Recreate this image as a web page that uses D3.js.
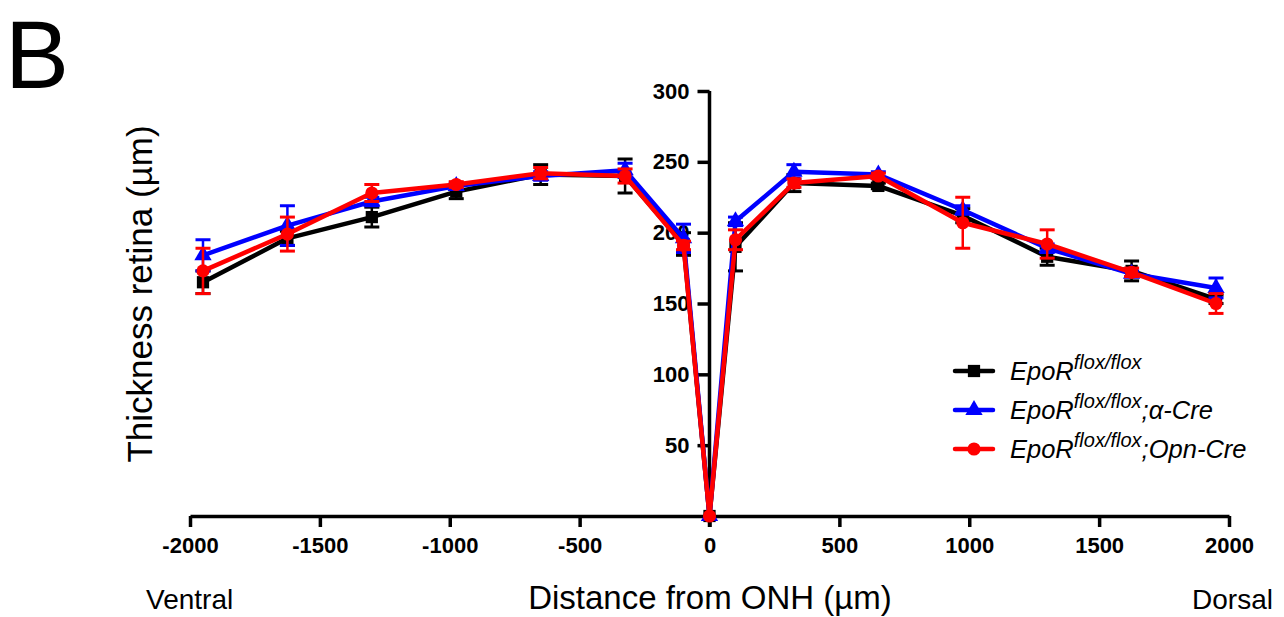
<!DOCTYPE html>
<html>
<head>
<meta charset="utf-8">
<script src="https://cdn.jsdelivr.net/npm/d3@7"></script>
<style>
  html, body { margin: 0; padding: 0; background: #fff; }
  svg { display: block; font-family: "Liberation Sans", Arial, sans-serif; }
</style>
</head>
<body>
<svg id="chart" width="1284" height="617"></svg>
<script>
// ---- data ----
const distances = [-1950, -1625, -1300, -975, -650, -325, -100, 0, 100, 325, 650, 975, 1300, 1625, 1950];

const floxMean = [165, 196, 211, 229, 241, 240, 192, 0, 190, 235, 233, 212, 183, 173, 153];
const floxErr  = [8, 5, 7, 5, 7, 12, 8, 0, 17, 6, 2, 5, 6, 7, 3];

const alphaMean = [184, 205, 222, 233, 240, 244, 196, 0, 208, 243, 241, 216, 189, 171, 161];
const alphaErr  = [11, 14, 3, 2, 3, 5, 10, 0, 3, 5, 2, 3, 3, 2, 7];

const opnMean = [173, 199, 228, 234, 242, 240, 191, 0, 195, 235, 240, 207, 192, 172, 150];
const opnErr  = [16, 12, 6, 2, 4, 5, 3, 0, 7, 3, 2, 18, 10, 3, 7];

const xTicks = [-2000, -1500, -1000, -500, 0, 500, 1000, 1500, 2000];
const yTicks = [50, 100, 150, 200, 250, 300];

const seriesNames = ["flox", "alpha", "opn"];
const seriesSuffix = ["", ";\u03b1-Cre", ";Opn-Cre"];
const seriesColors = ["#000000", "#0000ff", "#ff0000"];
const seriesShapes = ["square", "triangle", "circle"];

// ---- build ----
const svg = d3.select("#chart");
const x = d3.scaleLinear().domain([-2000, 2000]).range([190, 1229]);
const y = d3.scaleLinear().domain([0, 300]).range([516, 91]);

const series = [
  { name: seriesNames[0], mean: floxMean, err: floxErr },
  { name: seriesNames[1], mean: alphaMean, err: alphaErr },
  { name: seriesNames[2], mean: opnMean, err: opnErr }
].map((s, i) => ({ ...s, color: seriesColors[i], shape: seriesShapes[i], suffix: seriesSuffix[i],
  pts: distances.map((d, j) => ({ d, v: s.mean[j], e: s.err[j] })) }));

// axes
const xAxis = svg.append("g").attr("transform", `translate(0,${y(0)})`)
  .call(d3.axisBottom(x).tickValues(xTicks).tickFormat(d => String(d)).tickSize(11).tickPadding(10).tickSizeOuter(0));
const yAxis = svg.append("g").attr("transform", `translate(${x(0)},0)`)
  .call(d3.axisLeft(y).tickValues(yTicks).tickFormat(d => String(d)).tickSize(12).tickPadding(8).tickSizeOuter(0));

[xAxis, yAxis].forEach(g => {
  g.selectAll("path.domain").attr("stroke", "#000").attr("stroke-width", 3.5);
  g.selectAll(".tick line").attr("stroke", "#000").attr("stroke-width", 3.5);
  g.selectAll(".tick text").attr("fill", "#000")
    .style("font-family", "'Liberation Sans', Arial, sans-serif")
    .style("font-weight", "bold").style("font-size", "22px");
});
// extend y-axis line down to x-axis tick bottom
yAxis.select("path.domain").attr("d", `M0,${y(300)}V${y(0) + 11}`);

// symbols
function symbolPath(shape, size) {
  const t = shape === "square" ? d3.symbolSquare : shape === "triangle" ? d3.symbolTriangle : d3.symbolCircle;
  return d3.symbol().type(t).size(size)();
}
const symSize = { square: 150, triangle: 130, circle: 135 };

const line = d3.line().x(p => x(p.d)).y(p => y(p.v));

series.forEach(s => {
  const g = svg.append("g");
  // error bars
  const eb = g.selectAll("g.eb").data(s.pts.filter(p => p.e > 0)).join("g");
  eb.append("line")
    .attr("x1", p => x(p.d)).attr("x2", p => x(p.d))
    .attr("y1", p => y(p.v - p.e)).attr("y2", p => y(p.v + p.e))
    .attr("stroke", s.color).attr("stroke-width", 2.5);
  [1, -1].forEach(sg => {
    eb.append("line")
      .attr("x1", p => x(p.d) - 7.5).attr("x2", p => x(p.d) + 7.5)
      .attr("y1", p => y(p.v + sg * p.e)).attr("y2", p => y(p.v + sg * p.e))
      .attr("stroke", s.color).attr("stroke-width", 3);
  });
  // line
  g.append("path").datum(s.pts).attr("d", line)
    .attr("fill", "none").attr("stroke", s.color).attr("stroke-width", 4.5).attr("stroke-linejoin", "round");
  // markers
  g.selectAll("path.m").data(s.pts).join("path")
    .attr("transform", p => `translate(${x(p.d)},${y(p.v)})`)
    .attr("d", symbolPath(s.shape, symSize[s.shape]))
    .attr("fill", s.color);
});

// legend
const legY = [371, 410, 449];
series.forEach((s, i) => {
  const g = svg.append("g").attr("transform", `translate(0,${legY[i]})`);
  g.append("line").attr("x1", 955).attr("x2", 993).attr("y1", 0).attr("y2", 0)
    .attr("stroke", s.color).attr("stroke-width", 4.5).attr("stroke-linecap", "round");
  g.append("path").attr("transform", "translate(974,0)")
    .attr("d", symbolPath(s.shape, symSize[s.shape])).attr("fill", s.color);
  const t = g.append("text").attr("x", 1010).attr("y", 8.5)
    .style("font-style", "italic").style("font-size", "25.5px").attr("fill", "#000");
  t.append("tspan").text("EpoR");
  t.append("tspan").attr("dy", -11).style("font-size", "20px").text("flox/flox");
  if (s.suffix) t.append("tspan").attr("dy", 11).text(s.suffix);
});

// titles
svg.append("text").attr("x", 5).attr("y", 88).style("font-size", "96px").attr("fill", "#000").text("B");
svg.append("text").attr("transform", "translate(152,294) rotate(-90)").attr("text-anchor", "middle")
  .style("font-size", "35px").attr("fill", "#000").text("Thickness retina (\u00b5m)");
svg.append("text").attr("x", 710).attr("y", 609).attr("text-anchor", "middle")
  .style("font-size", "33px").attr("fill", "#000").text("Distance from ONH (\u00b5m)");
svg.append("text").attr("x", 146).attr("y", 609).style("font-size", "28px").attr("fill", "#000").text("Ventral");
svg.append("text").attr("x", 1273).attr("y", 609).attr("text-anchor", "end")
  .style("font-size", "28px").attr("fill", "#000").text("Dorsal");
</script>
</body>
</html>
